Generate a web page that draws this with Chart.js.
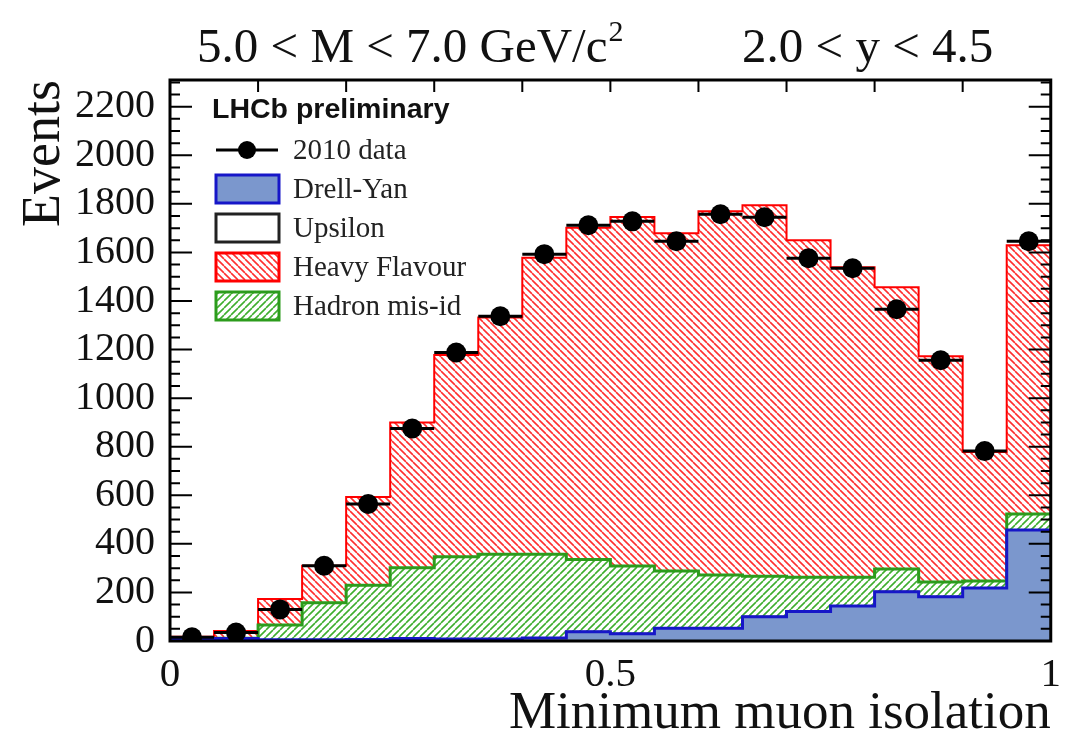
<!DOCTYPE html>
<html>
<head>
<meta charset="utf-8">
<script src="https://cdn.jsdelivr.net/npm/chart.js@4.4.1/dist/chart.umd.min.js"></script>
<style>
  body { margin: 0; background: #fff; }
</style>
</head>
<body>
<canvas id="iso" width="1071" height="748"></canvas>
<script>
// bin edges of the isolation histogram (20 bins)
const binEdges = [0, 0.05, 0.1, 0.15, 0.2, 0.25, 0.3, 0.35, 0.4, 0.45, 0.5,
  0.55, 0.6, 0.65, 0.7, 0.75, 0.8, 0.85, 0.9, 0.95, 1.0];

const dataCounts = [15, 35, 130, 310, 564, 875, 1188, 1337, 1593, 1712,
  1728, 1646, 1757, 1745, 1576, 1535, 1366, 1156, 782, 1646];
const drellYan = [8, 10, 5, 5, 6, 10, 8, 8, 12, 38,
  30, 52, 52, 100, 121, 144, 203, 182, 218, 457];
const upsilon = [1, 1, 1, 1, 2, 2, 2, 2, 2, 2,
  2, 2, 2, 2, 2, 2, 2, 2, 2, 2];
const hadronMisId = [0, 0, 60, 152, 222, 290, 337, 347, 343, 296,
  277, 234, 218, 165, 140, 117, 91, 59, 27, 64];
const heavyFlavour = [9, 30, 107, 152, 363, 598, 831, 975, 1221, 1366,
  1437, 1391, 1498, 1527, 1387, 1276, 1161, 930, 531, 1107];

const xLabels = [0, 0.5, 1];
const yLabelStep = 200;
const yMinorStep = 50;
const xMinorStep = 0.1;

const canvas = document.getElementById("iso");
const ctx0 = canvas.getContext("2d");

function hatch(color, dir) {
  const s = 7;
  const c = document.createElement("canvas");
  c.width = s;
  c.height = s;
  const g = c.getContext("2d");
  g.strokeStyle = color;
  g.lineWidth = 1.6;
  g.beginPath();
  for (let k = -1; k <= 1; k++) {
    if (dir > 0) {
      g.moveTo(k * s, s);
      g.lineTo(k * s + s, 0);
    } else {
      g.moveTo(k * s, 0);
      g.lineTo(k * s + s, s);
    }
  }
  g.stroke();
  return ctx0.createPattern(c, "repeat");
}

const dyFill = "#7b97cd";
const dyLine = "#1616c8";
const greenLine = "#2c9c1c";
const redLine = "#ff0000";
const greenHatch = hatch("#3fae2f", 1);
const redHatch = hatch("#ff3030", -1);

// step outline: one point per bin edge, last value repeated
const steps = (vals) =>
  binEdges.map((x, i) => ({ x: x, y: vals[Math.min(i, vals.length - 1)] }));
const dataPoints = dataCounts.map((y, i) => ({
  x: (binEdges[i] + binEdges[i + 1]) / 2,
  y: y,
}));

const serif = "Liberation Serif";

const rootStyle = {
  id: "rootStyle",
  beforeDatasetDraw(chart, args) {
    if (args.index !== 0) return;
    const { ctx, scales } = chart;
    ctx.save();
    ctx.strokeStyle = "#000";
    ctx.lineWidth = 3;
    dataCounts.forEach((v, i) => {
      const py = scales.y.getPixelForValue(v);
      ctx.beginPath();
      ctx.moveTo(scales.x.getPixelForValue(binEdges[i]), py);
      ctx.lineTo(scales.x.getPixelForValue(binEdges[i + 1]), py);
      ctx.stroke();
    });
    ctx.restore();
  },
  afterDraw(chart) {
    const { ctx, chartArea: a, scales } = chart;
    ctx.save();

    // inward ticks
    ctx.strokeStyle = "#000";
    ctx.lineWidth = 2;
    ctx.beginPath();
    for (let v = 0; v <= scales.y.max; v += yMinorStep) {
      const py = scales.y.getPixelForValue(v);
      const len = v % yLabelStep === 0 ? 22 : 10;
      ctx.moveTo(a.left, py);
      ctx.lineTo(a.left + len, py);
      ctx.moveTo(a.right, py);
      ctx.lineTo(a.right - len, py);
    }
    for (let k = 1; k < 10; k++) {
      const px = scales.x.getPixelForValue(k * xMinorStep);
      ctx.moveTo(px, a.top);
      ctx.lineTo(px, a.top + 12);
    }
    ctx.stroke();

    // frame
    ctx.lineWidth = 3;
    ctx.strokeRect(a.left, a.top, a.right - a.left, a.bottom - a.top);

    // header text
    ctx.fillStyle = "#111";
    ctx.textBaseline = "alphabetic";
    ctx.textAlign = "left";
    ctx.font = "49px '" + serif + "'";
    const t1 = "5.0 < M < 7.0 GeV/c";
    ctx.fillText(t1, 197, 62);
    const w1 = ctx.measureText(t1).width;
    ctx.font = "30px '" + serif + "'";
    ctx.fillText("2", 197 + w1 + 1, 41);
    ctx.font = "49px '" + serif + "'";
    ctx.fillText("2.0 < y < 4.5", 742, 62);

    // legend
    const lx = a.left + 46;
    ctx.font = "bold 28.5px 'Liberation Sans'";
    ctx.textBaseline = "middle";
    ctx.fillText("LHCb preliminary", a.left + 42, a.top + 30);
    const rows = [
      { label: "2010 data", kind: "data" },
      { label: "Drell-Yan", fill: dyFill, stroke: dyLine },
      { label: "Upsilon", fill: "#fff", stroke: "#222" },
      { label: "Heavy Flavour", fill: redHatch, stroke: redLine },
      { label: "Hadron mis-id", fill: greenHatch, stroke: greenLine },
    ];
    ctx.font = "29px '" + serif + "'";
    rows.forEach((r, i) => {
      const cy = a.top + 70 + i * 39;
      if (r.kind === "data") {
        ctx.strokeStyle = "#000";
        ctx.lineWidth = 3;
        ctx.beginPath();
        ctx.moveTo(lx, cy);
        ctx.lineTo(lx + 62, cy);
        ctx.stroke();
        ctx.fillStyle = "#000";
        ctx.beginPath();
        ctx.arc(lx + 31, cy, 9, 0, Math.PI * 2);
        ctx.fill();
      } else {
        ctx.fillStyle = r.fill;
        ctx.fillRect(lx, cy - 14, 63, 28);
        ctx.strokeStyle = r.stroke;
        ctx.lineWidth = 3;
        ctx.strokeRect(lx, cy - 14, 63, 28);
      }
      ctx.fillStyle = "#222";
      ctx.fillText(r.label, lx + 77, cy + 1);
    });
    ctx.restore();
  },
};

const histLine = (label, vals, fill, bg, border, width) => ({
  label: label,
  data: steps(vals),
  stepped: "before",
  fill: fill,
  backgroundColor: bg,
  borderColor: border,
  borderWidth: width,
  pointRadius: 0,
  stack: "mc",
});

new Chart(canvas, {
  type: "line",
  data: {
    datasets: [
      {
        label: "2010 data",
        data: dataPoints,
        showLine: false,
        pointRadius: 10,
        pointBackgroundColor: "#000",
        pointBorderWidth: 0,
        stack: "data",
      },
      histLine("Drell-Yan", drellYan, "origin", dyFill, dyLine, 3),
      histLine("Upsilon", upsilon, "-1", "#fff", "#222", 1),
      histLine("Hadron mis-id", hadronMisId, "-1", greenHatch, greenLine, 3),
      histLine("Heavy Flavour", heavyFlavour, "-1", redHatch, redLine, 2),
    ],
  },
  options: {
    responsive: false,
    animation: false,
    layout: { padding: { top: 80, right: 18, left: 0, bottom: 0 } },
    plugins: {
      legend: { display: false },
      tooltip: { enabled: false },
    },
    scales: {
      x: {
        type: "linear",
        min: 0,
        max: 1,
        grid: { display: false, drawTicks: false },
        border: { display: false },
        ticks: {
          stepSize: 0.5,
          autoSkip: false,
          maxRotation: 0,
          padding: 10,
          color: "#111",
          font: { family: serif, size: 41 },
          callback: (v) => (xLabels.includes(v) ? String(v) : ""),
        },
        title: {
          display: true,
          text: "Minimum muon isolation",
          align: "end",
          color: "#111",
          font: { family: serif, size: 53 },
          padding: { top: 0, bottom: 2 },
        },
        afterFit: (s) => {
          s.height = 107;
        },
      },
      y: {
        stacked: true,
        min: 0,
        max: 2310,
        grid: { display: false, drawTicks: false },
        border: { display: false },
        ticks: {
          stepSize: yLabelStep,
          includeBounds: false,
          autoSkip: false,
          padding: 15,
          color: "#111",
          font: { family: serif, size: 40 },
          callback: (v) => (v % yLabelStep === 0 ? String(v) : ""),
        },
        title: {
          display: true,
          text: "Events",
          align: "end",
          color: "#111",
          font: { family: serif, size: 54 },
          padding: { top: 12, bottom: 0 },
        },
        afterFit: (s) => {
          s.width = 170;
        },
      },
    },
  },
  plugins: [rootStyle],
});
</script>
</body>
</html>
